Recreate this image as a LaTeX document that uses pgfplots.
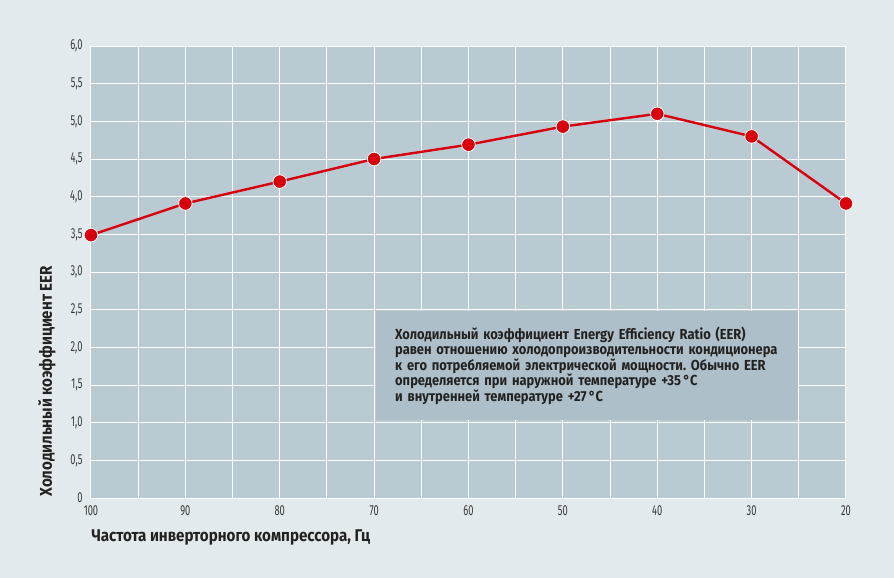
\documentclass[border=0pt]{standalone}
\usepackage{fontspec}
\setmainfont[FakeStretch=0.89]{Fira Sans}
\newfontfamily\tickfont[FakeStretch=0.64]{Fira Sans}
\usepackage{pgfplots}
\pgfplotsset{compat=1.18}
\definecolor{bgc}{HTML}{E3EAEE}
\definecolor{plotc}{HTML}{B9CAD3}
\definecolor{boxc}{HTML}{AEBFC9}
\definecolor{redc}{HTML}{D9000D}
\definecolor{txt}{HTML}{222222}
\begin{document}
\frenchspacing
\begin{tikzpicture}
\fill[bgc] (-91bp,-80bp) rectangle (803bp,498bp);
\begin{axis}[
  scale only axis,
  width=755bp, height=452bp,
  xmin=20, xmax=100, ymin=0, ymax=6,
  x dir=reverse,
  axis background/.style={fill=plotc},
  axis line style={white, line width=1pt},
  xtick={100,90,80,70,60,50,40,30,20},
  xticklabels={100,90,80,70,60,50,40,30,20},
  minor xtick={95,85,75,65,55,45,35,25},
  ytick={0,0.5,1,1.5,2,2.5,3,3.5,4,4.5,5,5.5,6},
  yticklabels={{0},{0,5},{1,0},{1,5},{2,0},{2,5},{3,0},{3,5},{4,0},{4,5},{5,0},{5,5},{6,0}},
  grid=both,
  major grid style={white, line width=1pt},
  minor grid style={white, line width=1pt},
  major tick length=0pt, minor tick length=0pt,
  tick label style={font=\tickfont\fontsize{14.5bp}{15bp}\selectfont, text=txt!90},
  xticklabel style={yshift=-4bp},
  yticklabel style={xshift=-5bp},
  clip=false,
]
\addplot[redc, line width=2.4bp, mark=*, mark size=6.8bp,
  mark options={fill=redc, draw=white, line width=0.8bp}]
  coordinates {(100,3.49) (90,3.91) (80,4.20) (70,4.50) (60,4.69) (50,4.93) (40,5.10) (30,4.80) (20,3.91)};
\node[fill=boxc, anchor=north west, minimum width=422bp, minimum height=109bp,
  text width=384bp, inner xsep=19bp, inner ysep=0bp, align=left, text=txt,
  font=\bfseries\fontsize{14.5bp}{15.5bp}\selectfont]
  at (axis cs:69.8,2.48)
  {Холодильный коэффициент Energy Efficiency Ratio (EER)\\
   равен отношению холодопроизводительности кондиционера\\
   к~его потребляемой электрической мощности. Обычно EER\\
   определяется при наружной температуре +35\,°C\\
   и внутренней температуре +27\,°C};
\node[anchor=west, text=txt, font=\bfseries\fontsize{17bp}{18bp}\selectfont]
  at ([xshift=-3bp, yshift=-39bp]rel axis cs:0,0) {Частота инверторного компрессора, Гц};
\node[anchor=west, rotate=90, text=txt, font=\bfseries\fontsize{17bp}{18bp}\selectfont]
  at ([xshift=-44bp, yshift=-2bp]rel axis cs:0,0) {Холодильный коэффициент EER};
\end{axis}
\end{tikzpicture}
\end{document}
